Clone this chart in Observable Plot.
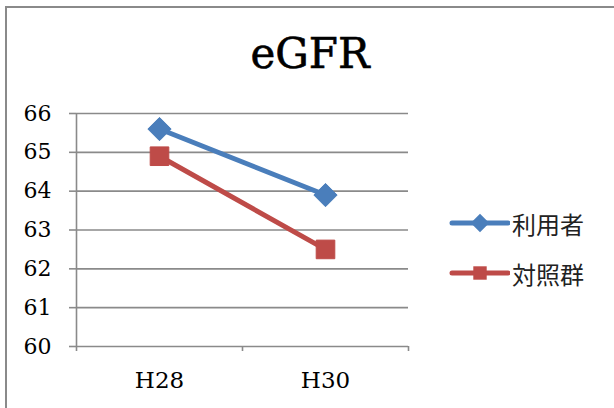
<!DOCTYPE html>
<html>
<head>
<meta charset="utf-8">
<script src="https://cdn.jsdelivr.net/npm/d3@7"></script>
<script src="https://cdn.jsdelivr.net/npm/@observablehq/plot@0.6"></script>
<style>
  html, body { margin: 0; padding: 0; background: #fff; }
  #wrap { position: relative; width: 614px; height: 408px; overflow: hidden; background: #fff; }
  #frame { position: absolute; left: 5px; top: 6px; width: 700px; height: 500px;
           border-top: 2px solid #8a8a8a; border-left: 2px solid #8a8a8a; box-sizing: border-box; }
  #title { position: absolute; left: 0; width: 620px; top: 29px; text-align: center;
           font-family: "DejaVu Serif", serif; font-size: 42px; color: #000; line-height: 50px;
           -webkit-text-stroke: 0.6px #000; }
  #chart { position: absolute; left: 0; top: 0; }
  #legend { position: absolute; left: 448px; top: 0; }
  .row { position: absolute; left: 0; display: flex; align-items: center; white-space: nowrap; }
  .row span { font-family: "Noto Sans CJK JP", sans-serif; font-size: 24px; color: #222; margin-left: 2px; }
</style>
</head>
<body>
<div id="wrap">
  <div id="frame"></div>
  <div id="chart"></div>
  <div id="title">eGFR</div>
  <div id="legend"></div>
</div>
<script>
const categories = ["H28", "H30"];
const seriesNames = ["利用者", "対照群"];
const userValues = [65.6, 63.9];
const controlValues = [64.9, 62.5];
const yTicks = [60, 61, 62, 63, 64, 65, 66];
const seriesColors = ["#4a7ebb", "#be4b48"];
const seriesSymbols = ["diamond2", "square"];

const data = [];
[userValues, controlValues].forEach((vals, s) => {
  vals.forEach((v, i) => data.push({ series: seriesNames[s], i, cat: categories[i], value: v }));
});

const grid = "#8a8a8a";
const chart = Plot.plot({
  width: 614,
  height: 408,
  marginTop: 113,
  marginBottom: 62,
  marginLeft: 76,
  marginRight: 206,
  x: { type: "linear", domain: [0, categories.length] },
  y: { domain: [60, 66] },
  color: { domain: seriesNames, range: seriesColors },
  symbol: { domain: seriesNames, range: seriesSymbols },
  style: { fontFamily: "DejaVu Serif, serif", fontSize: "22px", color: "#000", background: "transparent" },
  marks: [
    Plot.gridY(yTicks, { stroke: grid, strokeOpacity: 1, strokeWidth: 1.6 }),
    Plot.ruleX([0], { y1: 60, y2: 66, stroke: grid, strokeWidth: 1.6 }),
    Plot.axisY({ ticks: yTicks, tickFormat: d3.format("d"), tickSize: 7, tickPadding: 18, stroke: grid, strokeWidth: 1.6, fill: "#000", fontSize: 22, label: null }),
    Plot.axisX({ ticks: d3.range(categories.length + 1), tickFormat: () => "", tickSize: 5, stroke: grid, strokeWidth: 1.6, label: null }),
    Plot.axisX({ ticks: categories.map((c, i) => i + 0.5), tickFormat: d => categories[Math.floor(d)], tickSize: 0, tickPadding: 25, fill: "#000", fontSize: 23, label: null }),
    Plot.line(data, { x: d => d.i + 0.5, y: "value", z: "series", stroke: "series", strokeWidth: 5 }),
    Plot.dot(data, { x: d => d.i + 0.5, y: "value", symbol: "series", fill: "series", stroke: "series", strokeWidth: 1, r: 10.5 })
  ]
});
document.getElementById("chart").appendChild(chart);

// Legend
const legend = d3.select("#legend");
const rowY = [223, 273];
seriesNames.forEach((name, k) => {
  const row = legend.append("div").attr("class", "row").style("top", (rowY[k] - 16) + "px").style("height", "32px");
  const svg = row.append("svg").attr("width", 62).attr("height", 32);
  svg.append("line").attr("x1", 4).attr("x2", 60).attr("y1", 16).attr("y2", 16)
    .attr("stroke", seriesColors[k]).attr("stroke-width", 5).attr("stroke-linecap", "round");
  const sym = k === 0 ? d3.symbolDiamond2 : d3.symbolSquare;
  svg.append("path").attr("transform", "translate(32,16)")
    .attr("d", d3.symbol(sym, k === 0 ? 220 : 180)())
    .attr("fill", seriesColors[k]);
  row.append("span").text(name);
});
</script>
</body>
</html>
